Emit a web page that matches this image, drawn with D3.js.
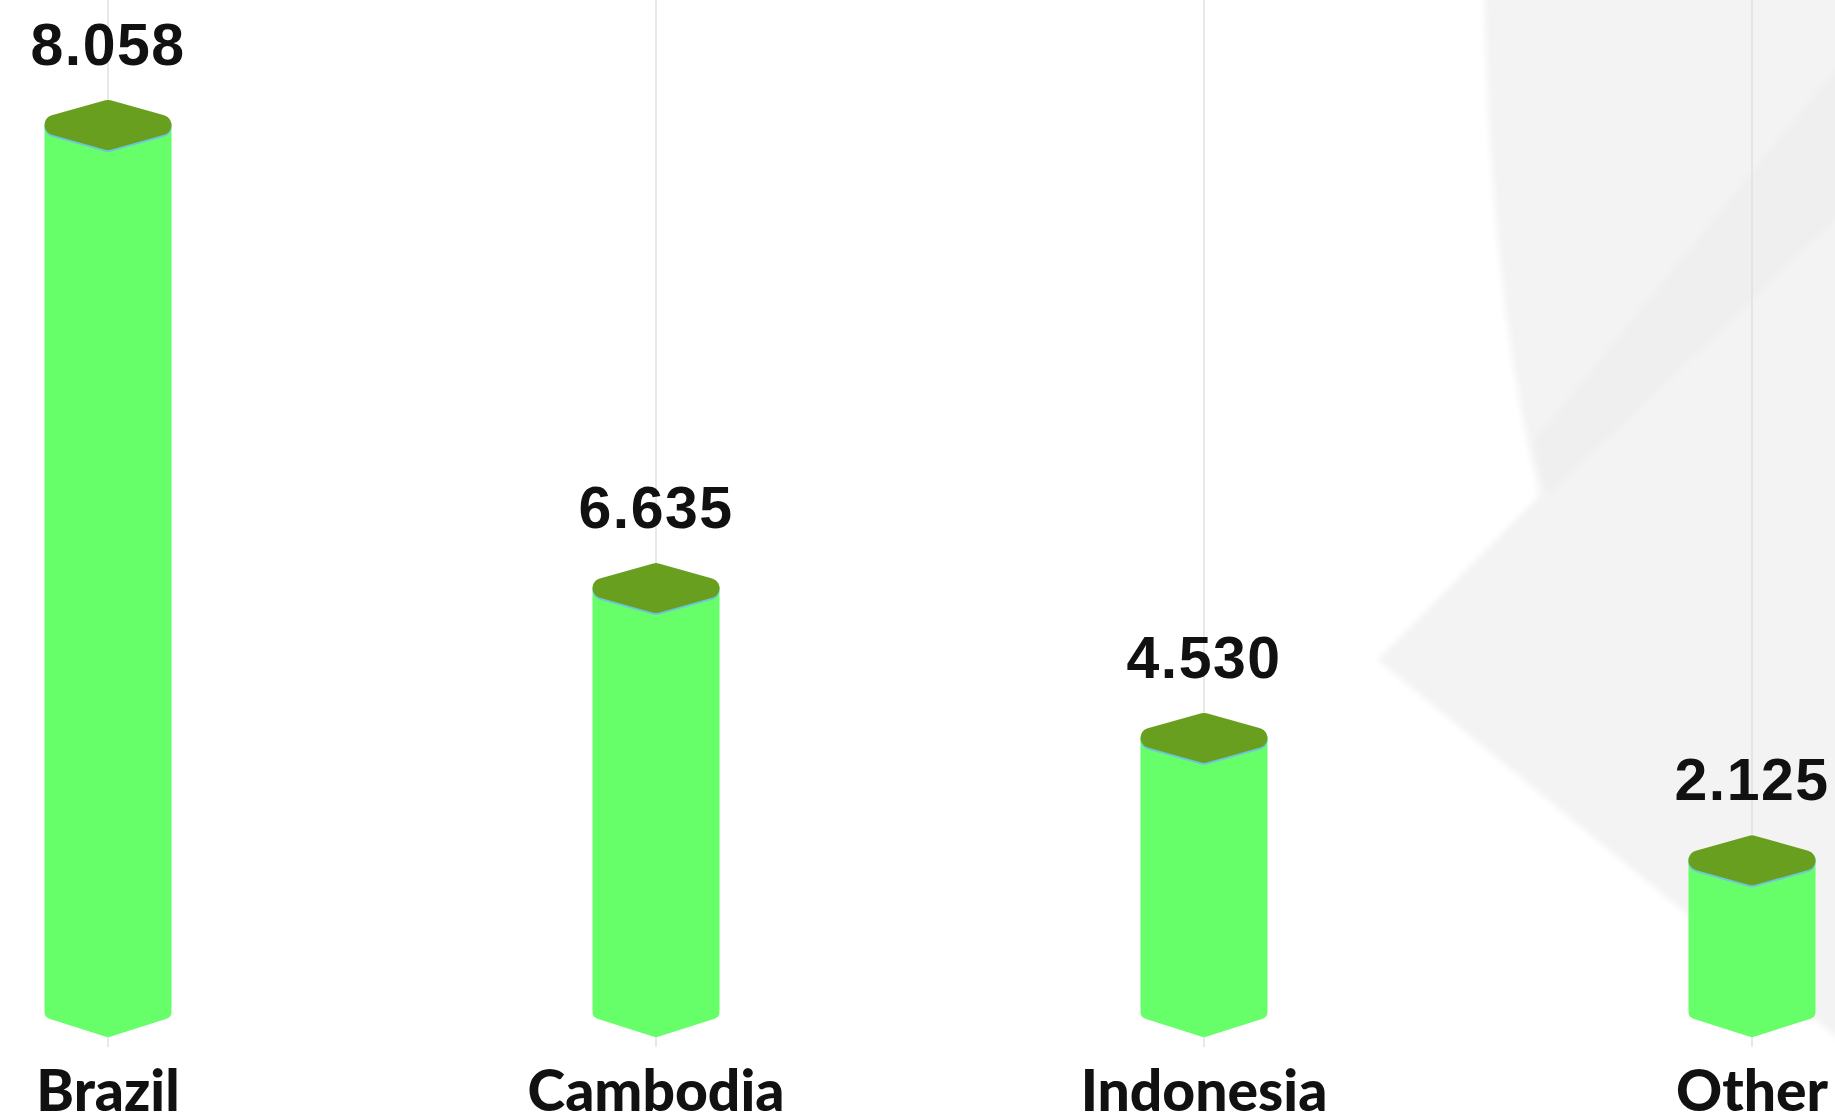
<!DOCTYPE html>
<html>
<head>
<meta charset="utf-8">
<script src="https://cdn.jsdelivr.net/npm/d3@7"></script>
<style>
  html, body { margin: 0; padding: 0; background: #ffffff; overflow: hidden; }
</style>
</head>
<body>
<div id="chart"></div>
<script>
const categories = ["Brazil", "Cambodia", "Indonesia", "Other"];
const values = [8.058, 6.635, 4.530, 2.125];
// bar heights as drawn in the picture, in % of the tallest bar
const barHeights = [100, 47.8, 30.9, 17.1];

const width = 1835, height = 1119;
const baseY = 1012, topY = 125;
const halfW = 63.5, depth = 25, r = 7, rTop = 10;

const svg = d3.select("#chart")
    .append("svg")
    .attr("width", width)
    .attr("height", height);

const defs = svg.append("defs");
defs.append("filter")
    .attr("id", "soft")
    .attr("x", "-10%").attr("y", "-10%")
    .attr("width", "120%").attr("height", "120%")
    .append("feGaussianBlur")
    .attr("stdDeviation", 3);

// background decoration
const bg = svg.append("g").attr("filter", "url(#soft)");
bg.append("path")
    .attr("d", "M1484,-20 L1860,-20 L1860,1060 L1835,1036 L1744,961 L1378,660 L1540,495 Q1490,300 1484,-20 Z")
    .attr("fill", "#f3f3f3");
bg.append("path")
    .attr("d", "M1534,442 L1860,40 L1860,195 L1548,495 Z")
    .attr("fill", "#efefef");

const x = d3.scalePoint()
    .domain(categories)
    .range([108, 1752]);

const y = d3.scaleLinear()
    .domain([0, 100])
    .range([baseY, topY]);

const data = categories.map((c, i) => ({ name: c, value: values[i], h: barHeights[i] }));

// vertical grid lines
svg.append("g")
    .selectAll("line")
    .data(categories)
    .enter().append("line")
    .attr("x1", d => x(d))
    .attr("x2", d => x(d))
    .attr("y1", 0)
    .attr("y2", baseY + depth + 10)
    .attr("stroke", "#e0e0e0")
    .attr("stroke-width", 1.5);

const bars = svg.append("g")
    .selectAll("g")
    .data(data)
    .enter().append("g");

// body
bars.append("path")
    .attr("d", d => {
        const cx = x(d.name), t = y(d.h);
        return `M${cx - halfW + r},${t} L${cx + halfW - r},${t} L${cx + halfW - r},${baseY} L${cx},${baseY + depth - r} L${cx - halfW + r},${baseY} Z`;
    })
    .attr("fill", "#66ff6a")
    .attr("stroke", "#66ff6a")
    .attr("stroke-width", 2 * r)
    .attr("stroke-linejoin", "round");

const diamond = d => {
    const cx = x(d.name), t = y(d.h);
    return `M${cx},${t - depth + rTop} L${cx + halfW - rTop},${t} L${cx},${t + depth - rTop} L${cx - halfW + rTop},${t} Z`;
};

// thin blue edge under the top face
bars.append("path")
    .attr("d", diamond)
    .attr("transform", "translate(0,2)")
    .attr("fill", "#6cc6dc")
    .attr("stroke", "#6cc6dc")
    .attr("stroke-width", 2 * rTop)
    .attr("stroke-linejoin", "round");

// top face
bars.append("path")
    .attr("d", diamond)
    .attr("fill", "#699f1f")
    .attr("stroke", "#699f1f")
    .attr("stroke-width", 2 * rTop)
    .attr("stroke-linejoin", "round");

// value labels
svg.append("g")
    .selectAll("text")
    .data(data)
    .enter().append("text")
    .attr("x", d => x(d.name))
    .attr("y", d => y(d.h) - 60)
    .attr("text-anchor", "middle")
    .style("font-family", "'Liberation Sans', Arial, sans-serif")
    .style("font-weight", "bold")
    .style("font-size", "59px")
    .style("letter-spacing", "1.5px")
    .style("fill", "#111111")
    .text(d => d3.format(".3f")(d.value));

// category labels
svg.append("g")
    .selectAll("text")
    .data(categories)
    .enter().append("text")
    .attr("x", d => x(d))
    .attr("y", 1111)
    .attr("text-anchor", "middle")
    .style("font-family", "Lato, sans-serif")
    .style("font-weight", "900")
    .style("font-size", "57px")
    .style("fill", "#111111")
    .text(d => d);
</script>
</body>
</html>
